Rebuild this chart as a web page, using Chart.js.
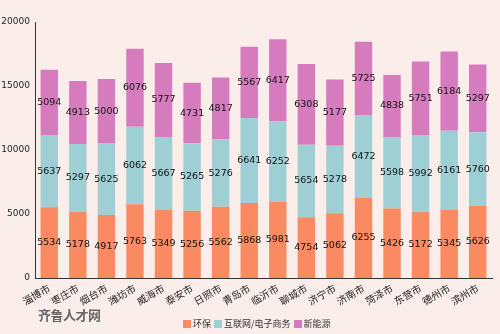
<!DOCTYPE html>
<html><head><meta charset="utf-8">
<script src="https://cdn.jsdelivr.net/npm/chart.js@4/dist/chart.umd.min.js"></script>
<style>
html,body{margin:0;padding:0;background:#fbede9;}
#wrap{position:relative;width:500px;height:334px;}
canvas{position:absolute;left:0;top:0;}
#legend{position:absolute;top:317px;left:183px;font:9px "Noto Sans CJK SC",sans-serif;color:#333;white-space:nowrap;display:flex;align-items:center;}
#legend span.sw{display:inline-block;width:8px;height:8px;margin-right:2px;}
#legend span.it{margin-right:3px;display:inline-flex;align-items:center;}
#wm{position:absolute;left:38px;top:305px;font:bold 13px "Noto Sans CJK SC",sans-serif;color:#666;letter-spacing:-0.5px;}
</style></head>
<body><div id="wrap"><canvas id="c" width="500" height="334"></canvas><div id="legend"></div><div id="wm">齐鲁人才网</div></div>
<script>
const categories = ["淄博市","枣庄市","烟台市","潍坊市","威海市","泰安市","日照市","青岛市","临沂市","聊城市","济宁市","济南市","菏泽市","东营市","德州市","滨州市"];
const envValues = [5534,5178,4917,5763,5349,5256,5562,5868,5981,4754,5062,6255,5426,5172,5345,5626];
const netValues = [5637,5297,5625,6062,5667,5265,5276,6641,6252,5654,5278,6472,5598,5992,6161,5760];
const energyValues = [5094,4913,5000,6076,5777,4731,4817,5567,6417,6308,5177,5725,4838,5751,6184,5297];
const seriesNames = ["环保","互联网/电子商务","新能源"];
const yTicks = [0,5000,10000,15000,20000];
const colors = ["#f98a62","#9ecfd5","#d77bbf"];

const labelPlugin = {
  id:'segLabels',
  afterDatasetsDraw(chart){
    const ctx = chart.ctx;
    ctx.save();
    ctx.font = '9.5px "DejaVu Sans"';
    ctx.fillStyle = '#111';
    ctx.textAlign = 'center';
    ctx.textBaseline = 'middle';
    chart.data.datasets.forEach((ds,i)=>{
      const meta = chart.getDatasetMeta(i);
      meta.data.forEach((bar,j)=>{
        const y = (bar.y + bar.base)/2;
        ctx.fillText(String(ds.data[j]), bar.x, y);
      });
    });
    ctx.restore();
  }
};

const datasets = [envValues, netValues, energyValues].map((d,i)=>({
  label: seriesNames[i], data: d, backgroundColor: colors[i],
  barPercentage: 0.61, categoryPercentage: 1.0, borderWidth: 0
}));

new Chart(document.getElementById('c'), {
  type:'bar',
  data:{labels:categories, datasets},
  options:{
    responsive:false, animation:false,
    layout:{padding:{top:22,right:8,left:0,bottom:0}},
    plugins:{legend:{display:false},tooltip:{enabled:false}},
    scales:{
      x:{stacked:true,
        grid:{display:false,drawTicks:true,tickLength:3,color:'#333'},
        border:{display:true,color:'#333',width:1},
        ticks:{minRotation:30,maxRotation:30,autoSkip:false,color:'#222',padding:1,
          font:{family:'"Noto Sans CJK SC"',size:10}},
        afterFit(s){s.height=56;}
      },
      y:{stacked:true,min:0,max:20000,
        afterBuildTicks(s){s.ticks = yTicks.map(v=>({value:v}));},
        grid:{display:false,drawTicks:true,tickLength:3},
        border:{display:true,color:'#333',width:1},
        ticks:{color:'#222',padding:2,font:{family:'"DejaVu Sans"',size:9},callback:v=>String(v)},
        afterFit(s){s.width=35;}
      }
    }
  },
  plugins:[labelPlugin]
});

const lg = document.getElementById('legend');
seriesNames.forEach((n,i)=>{
  const it=document.createElement('span');it.className='it';
  const sw=document.createElement('span');sw.className='sw';sw.style.background=colors[i];
  it.appendChild(sw);it.appendChild(document.createTextNode(n));lg.appendChild(it);
});
</script></body></html>
